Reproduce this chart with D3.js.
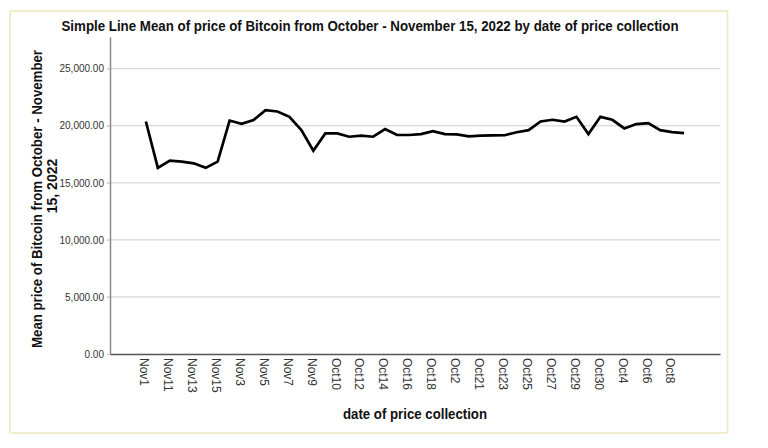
<!DOCTYPE html>
<html>
<head>
<meta charset="utf-8">
<script src="https://cdn.jsdelivr.net/npm/d3@7"></script>
<style>
  html, body { margin: 0; padding: 0; background: #ffffff; }
  svg { display: block; font-family: Arial, "Liberation Sans", sans-serif; }
</style>
</head>
<body>
<svg id="chart" width="768" height="448"></svg>
<script>
// Categories (sorted as strings, as in the source chart)
const categories = [
  "Nov1","Nov10","Nov11","Nov12","Nov13","Nov14","Nov15","Nov2","Nov3","Nov4",
  "Nov5","Nov6","Nov7","Nov8","Nov9","Oct1","Oct10","Oct11","Oct12","Oct13",
  "Oct14","Oct15","Oct16","Oct17","Oct18","Oct19","Oct2","Oct20","Oct21","Oct22",
  "Oct23","Oct24","Oct25","Oct26","Oct27","Oct28","Oct29","Oct3","Oct30","Oct31",
  "Oct4","Oct5","Oct6","Oct7","Oct8","Oct9"
];
const meanPrice = [
  20375,16307,16945,16860,16710,16310,16860,20460,20175,20495,
  21370,21250,20785,19620,17820,19330,19330,19040,19130,19040,
  19710,19190,19190,19270,19535,19270,19245,19070,19130,19155,
  19170,19430,19620,20375,20525,20375,20785,19270,20785,20525,
  19770,20150,20235,19620,19450,19360
];
const yTicks = [0, 5000, 10000, 15000, 20000, 25000];
const titleText = "Simple Line Mean of price of Bitcoin from October - November 15, 2022 by date of price collection";
const yTitleLines = ["Mean price of Bitcoin from October - November", "15, 2022"];
const xTitleText = "date of price collection";

const svg = d3.select("#chart");

// outer frame
svg.append("rect")
  .attr("x", 10).attr("y", 11).attr("width", 717.5).attr("height", 422)
  .attr("fill", "none").attr("stroke", "#f3ecc6").attr("stroke-width", 1.8);

const plotLeft = 110, plotRight = 720, plotTop = 37, plotBottom = 354;

const x = d3.scalePoint().domain(categories).range([plotLeft, plotRight]).padding(3);
const y = d3.scaleLinear().domain([0, 27780]).range([plotBottom, plotTop]);

// gridlines
svg.append("g").selectAll("line").data(yTicks.filter(d => d > 0)).join("line")
  .attr("x1", plotLeft - 3).attr("x2", plotRight)
  .attr("y1", d => y(d)).attr("y2", d => y(d))
  .attr("stroke", "#cfcfcf").attr("stroke-width", 1);

// y axis
const yAxis = d3.axisLeft(y).tickValues(yTicks).tickSizeInner(3).tickSizeOuter(0).tickPadding(3)
  .tickFormat(d3.format(",.2f"));
const gy = svg.append("g").attr("transform", `translate(${plotLeft},0)`).call(yAxis);
gy.select(".domain").attr("stroke", "#8a8a8a").attr("stroke-width", 1.5);
gy.selectAll(".tick line").attr("stroke", "#cfcfcf");
gy.selectAll(".tick text").attr("font-size", 10).attr("fill", "#333")
  .attr("font-family", "Arial, 'Liberation Sans', sans-serif");

// x axis
const xAxis = d3.axisBottom(x)
  .tickValues(categories.filter((d, i) => i % 2 === 0))
  .tickSize(0);
const gx = svg.append("g").attr("transform", `translate(0,${plotBottom})`).call(xAxis);
gx.select(".domain").attr("stroke", "#555").attr("stroke-width", 1.5);
gx.selectAll(".tick text")
  .attr("font-size", 12).attr("fill", "#333")
  .attr("font-family", "Arial, 'Liberation Sans', sans-serif")
  .attr("text-anchor", "start")
  .attr("transform", "rotate(90)")
  .attr("x", 4).attr("y", 2).attr("dy", "0.35em");

// line
const line = d3.line()
  .x((d, i) => x(categories[i]))
  .y(d => y(d));
svg.append("path").datum(meanPrice)
  .attr("d", line)
  .attr("fill", "none").attr("stroke", "#000").attr("stroke-width", 2.7)
  .attr("stroke-linejoin", "miter");

// title
svg.append("text")
  .attr("x", 370).attr("y", 31).attr("text-anchor", "middle")
  .attr("font-size", 14).attr("font-weight", "bold").attr("fill", "#111")
  .attr("textLength", 617).attr("lengthAdjust", "spacingAndGlyphs")
  .text(titleText);

// y title
svg.append("text")
  .attr("transform", "translate(42,199) rotate(-90)")
  .attr("text-anchor", "middle")
  .attr("font-size", 14).attr("font-weight", "bold").attr("fill", "#111")
  .attr("textLength", 298).attr("lengthAdjust", "spacingAndGlyphs")
  .text(yTitleLines[0]);
svg.append("text")
  .attr("transform", "translate(57,186) rotate(-90)")
  .attr("text-anchor", "middle")
  .attr("font-size", 14).attr("font-weight", "bold").attr("fill", "#111")
  .text(yTitleLines[1]);

// x title
svg.append("text")
  .attr("x", 415).attr("y", 419).attr("text-anchor", "middle")
  .attr("font-size", 14).attr("font-weight", "bold").attr("fill", "#111")
  .attr("textLength", 144).attr("lengthAdjust", "spacingAndGlyphs")
  .text(xTitleText);
</script>
</body>
</html>
